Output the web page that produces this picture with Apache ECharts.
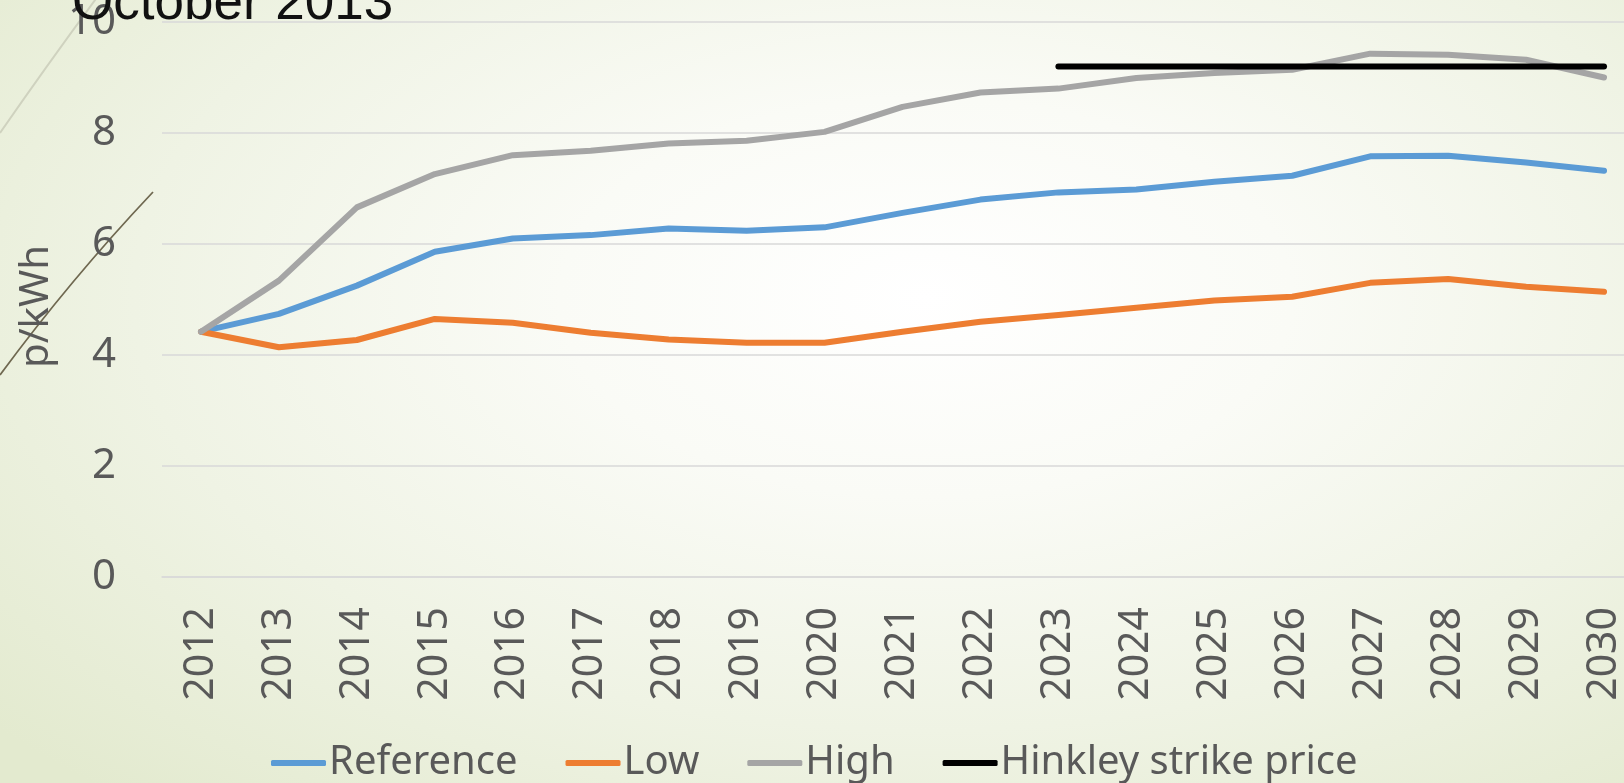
<!DOCTYPE html>
<html>
<head>
<meta charset="utf-8">
<title>Wholesale electricity price projections</title>
<script src="https://cdn.jsdelivr.net/npm/echarts@6/dist/echarts.min.js"></script>
<style>
  html, body { margin: 0; padding: 0; width: 1624px; height: 783px; overflow: hidden; }
  body {
    background: radial-gradient(ellipse 75% 85% at 57% 38%, #ffffff 0%, #fafbf6 30%, #eff3e4 65%, #e3eacf 100%);
  }
  /* the plot area runs slightly past the right edge of the page */
  #chart { width: 1643px; height: 783px; }
</style>
</head>
<body>
<div id="chart"></div>
<script>
// Projected prices, p/kWh
const years = ['2012', '2013', '2014', '2015', '2016', '2017', '2018', '2019', '2020', '2021',
               '2022', '2023', '2024', '2025', '2026', '2027', '2028', '2029', '2030'];
const referencePrices = [4.42, 4.74, 5.25, 5.86, 6.10, 6.16, 6.28, 6.24, 6.30, 6.56,
                         6.80, 6.93, 6.98, 7.12, 7.23, 7.58, 7.59, 7.47, 7.32];
const lowPrices = [4.42, 4.14, 4.27, 4.65, 4.58, 4.40, 4.28, 4.22, 4.22, 4.42,
                   4.60, 4.72, 4.85, 4.98, 5.05, 5.30, 5.37, 5.23, 5.14];
const highPrices = [4.42, 5.34, 6.66, 7.26, 7.60, 7.68, 7.81, 7.86, 8.02, 8.47,
                    8.73, 8.80, 8.99, 9.08, 9.14, 9.43, 9.41, 9.32, 9.00];
const hinkleyPrice = [null, null, null, null, null, null, null, null, null, null,
                      null, 9.2, 9.2, 9.2, 9.2, 9.2, 9.2, 9.2, 9.2];
const yTicks = { min: 0, max: 10, interval: 2 };

const labelColor = '#595959';
const labelFont = '"Noto Sans", "Open Sans", sans-serif';

function lineSeries(name, data, color, width) {
  return {
    name: name,
    type: 'line',
    data: data,
    showSymbol: false,
    symbol: 'none',
    connectNulls: false,
    lineStyle: { color: color, width: width, cap: 'round', join: 'round' },
    itemStyle: { color: color },
    emphasis: { disabled: true }
  };
}

const chart = echarts.init(document.getElementById('chart'), null, { renderer: 'canvas' });

chart.setOption({
  backgroundColor: 'transparent',
  animation: false,
  title: {
    text: 'October 2013',
    left: 72,
    top: -22,
    padding: 0,
    textStyle: {
      fontFamily: '"Liberation Sans", Arial, sans-serif',
      fontSize: 53,
      fontWeight: 'normal',
      color: '#111111'
    }
  },
  graphic: [
    {
      type: 'bezierCurve',
      z: -1,
      shape: { x1: 0, y1: 133, x2: 98, y2: -4, cpx1: 45, cpy1: 68 },
      style: { stroke: '#cfd2bf', lineWidth: 2, fill: null }
    },
    {
      type: 'bezierCurve',
      z: -1,
      shape: { x1: 0, y1: 375, x2: 153, y2: 192, cpx1: 70, cpy1: 280 },
      style: { stroke: '#6f6850', lineWidth: 1.8, fill: null }
    }
  ],
  grid: {
    left: 162,
    right: 0,
    top: 22,
    bottom: 206,
    containLabel: false
  },
  legend: {
    left: 271,
    top: 743,
    itemGap: 48,
    itemWidth: 55,
    itemHeight: 6,
    icon: 'roundRect',
    padding: 0,
    textStyle: {
      fontFamily: labelFont,
      fontSize: 40,
      color: labelColor,
      padding: [0, 0, 0, -2]
    },
    data: ['Reference', 'Low', 'High', 'Hinkley strike price']
  },
  xAxis: {
    type: 'category',
    data: years,
    boundaryGap: true,
    axisLine: { show: true, lineStyle: { color: '#d9d9d9', width: 1.5 } },
    axisTick: { show: false },
    axisLabel: {
      rotate: 90,
      margin: 30,
      fontFamily: labelFont,
      fontSize: 41,
      color: labelColor,
      interval: 0
    },
    splitLine: { show: false }
  },
  yAxis: {
    type: 'value',
    min: yTicks.min,
    max: yTicks.max,
    interval: yTicks.interval,
    name: 'p/kWh',
    nameLocation: 'middle',
    nameGap: 105,
    nameRotate: 90,
    nameTextStyle: {
      fontFamily: labelFont,
      fontSize: 40,
      color: labelColor,
      padding: [0, 14, 0, 0]
    },
    axisLine: { show: false },
    axisTick: { show: false },
    axisLabel: {
      margin: 46,
      fontFamily: labelFont,
      fontSize: 42,
      color: labelColor
    },
    splitLine: { show: true, lineStyle: { color: '#d9d9d9', width: 1.5 } }
  },
  series: [
    lineSeries('Reference', referencePrices, '#5b9bd5', 6),
    lineSeries('Low', lowPrices, '#ed7d31', 6),
    lineSeries('High', highPrices, '#a5a5a5', 6),
    lineSeries('Hinkley strike price', hinkleyPrice, '#000000', 6)
  ]
});
</script>
</body>
</html>
